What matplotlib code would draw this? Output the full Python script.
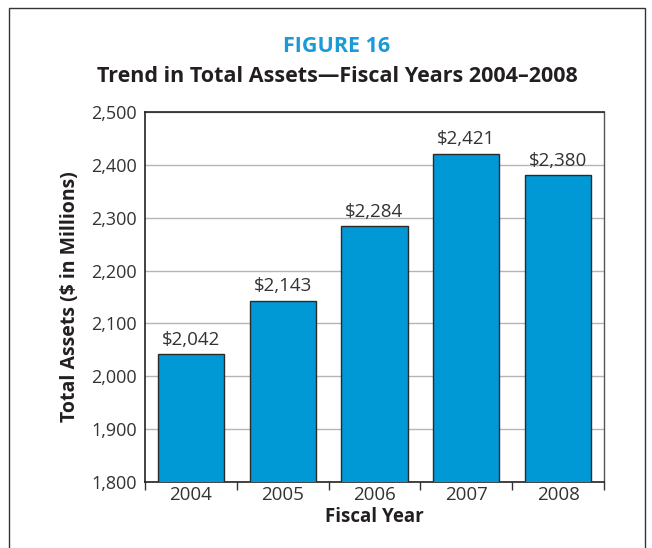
import matplotlib
matplotlib.use("Agg")
import matplotlib.pyplot as plt
from matplotlib.patches import Rectangle

years = ["2004", "2005", "2006", "2007", "2008"]
assets = [2042, 2143, 2284, 2421, 2380]
y_ticks = [1800, 1900, 2000, 2100, 2200, 2300, 2400, 2500]

plt.rcParams["font.family"] = ["Open Sans", "DejaVu Sans"]
text_color = "#231f20"
bar_color = "#0098d5"

fig = plt.figure(figsize=(6.52, 5.48), dpi=100)
fig.patch.set_facecolor("white")

# outer frame
fig.add_artist(Rectangle((9 / 652, -0.05), (645 - 9) / 652, 1 - 8 / 548 + 0.05,
                         transform=fig.transFigure, fill=False,
                         edgecolor="#333333", linewidth=1.0))

ax = fig.add_axes([145 / 652, 1 - 482 / 548, (604 - 145) / 652, (482 - 112) / 548])

x = list(range(len(years)))
bars = ax.bar(x, assets, width=0.72, color=bar_color, edgecolor="#2b2b2b",
              linewidth=1.0, zorder=3)
for xi, v in zip(x, assets):
    ax.text(xi, v + 10, f"${v:,}", ha="center", va="bottom",
            fontsize=13.5, color="#333333", zorder=4)

ax.set_ylim(1800, 2500)
ax.set_xlim(-0.5, len(years) - 0.5)
ax.set_yticks(y_ticks)
ax.set_yticklabels([f"{t:,}" for t in y_ticks], fontsize=13, color="#333333")
ax.tick_params(axis="y", length=0, pad=6)
ax.yaxis.grid(True, color="#b5b5b5", linewidth=1.0, zorder=0)

ax.set_xticks(x)
ax.set_xticklabels(years, fontsize=13.5, color="#333333")
ax.tick_params(axis="x", length=0, pad=3)
ax.set_xticks([i + 0.5 for i in range(-1, len(years))], minor=True)
ax.tick_params(axis="x", which="minor", length=6, width=1.0, color="#333333",
               direction="out")

for side in ["left", "bottom", "top"]:
    ax.spines[side].set_color("#222222")
    ax.spines[side].set_linewidth(1.2)
ax.spines["right"].set_color("#555555")
ax.spines["right"].set_linewidth(1.0)

ax.set_xlabel("Fiscal Year", fontsize=13.5, fontweight="bold",
              color=text_color, labelpad=2)
ax.set_ylabel("Total Assets ($ in Millions)", fontsize=14, fontweight="bold",
              color=text_color, labelpad=8)

fig.text(337 / 652, 1 - 47 / 548, "FIGURE 16", ha="center", va="center",
         fontsize=15.5, fontweight="bold", color="#1b9ad6")
fig.text(337 / 652, 1 - 77 / 548, "Trend in Total Assets\u2014Fiscal Years 2004\u20132008",
         ha="center", va="center", fontsize=15.5, fontweight="bold", color=text_color)

fig.savefig("out.png", dpi=100)
